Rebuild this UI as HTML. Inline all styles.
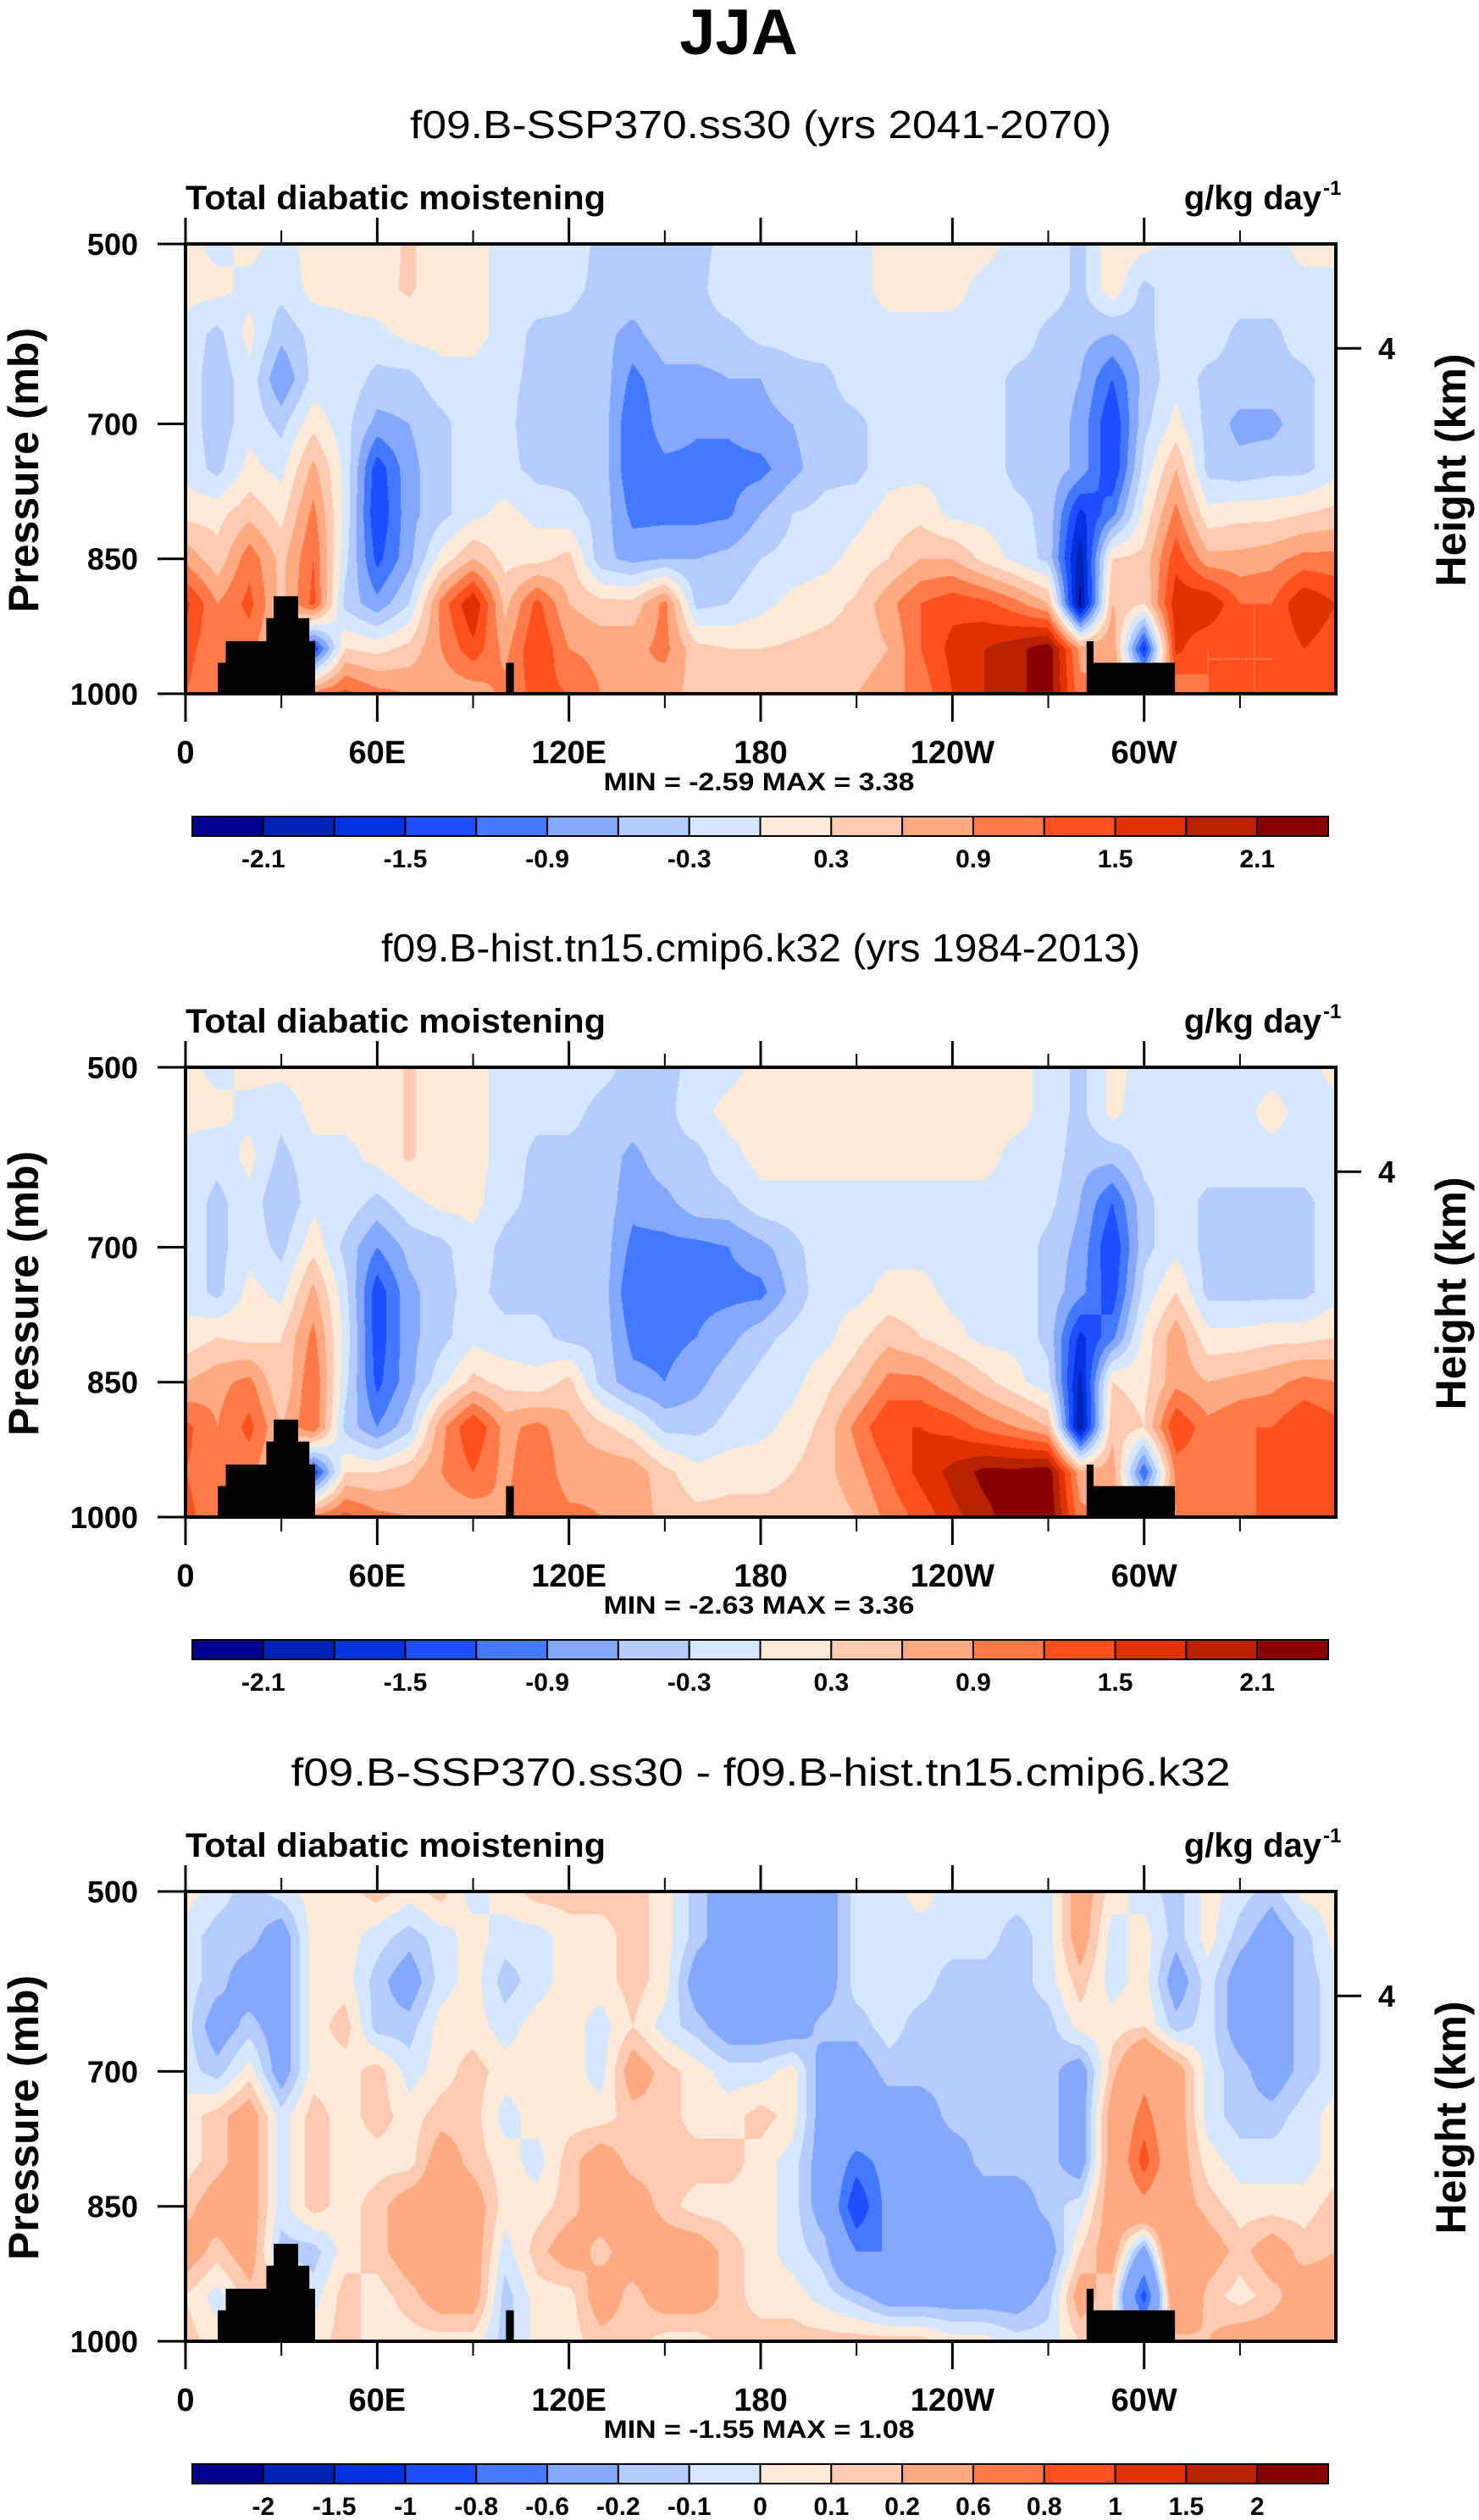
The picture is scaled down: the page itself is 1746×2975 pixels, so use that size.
<!DOCTYPE html>
<html><head><meta charset="utf-8"><title>JJA Total diabatic moistening</title>
<style>
html,body{margin:0;padding:0;background:#fff;}
#root{position:relative;width:1746px;height:2975px;overflow:hidden;background:#fff;font-family:"Liberation Sans",sans-serif;}
canvas{position:absolute;}
svg{position:absolute;left:0;top:0;}
</style></head>
<body>
<div id="root">
<canvas id="c0" width="1358" height="531" style="left:219px;top:288px"></canvas>
<canvas id="c1" width="1358" height="531" style="left:219px;top:1260px"></canvas>
<canvas id="c2" width="1358" height="531" style="left:219px;top:2233px"></canvas>
<svg id="s" width="1746" height="2975" xmlns="http://www.w3.org/2000/svg">
<text x="872" y="64" text-anchor="middle" font-family="Liberation Sans, sans-serif" font-weight="bold" font-size="76">JJA</text>
</svg>
</div>
<script>
const lons=[0,10,20,30,40,50,60,70,80,90,100,110,120,130,140,150,160,170,180,190,200,210,220,230,240,250,260,270,280,290,300,310,320,330,340,350,360];
const levels=[500,550,600,650,700,750,800,850,900,950,1000];

const p1Values=[
[0.1,-0.1,0.1,-0.1,0.1,0.1,0.15,0.35,0.1,0.1, -0.1,-0.1,-0.1,-0.4,-0.4,-0.4,-0.4,-0.2,-0.1,-0.1, -0.1,-0.1,0.1,0.1,0.1,0.1,-0.1,-0.1,-0.4,0.2, 0.1,-0.1,-0.1,-0.1,-0.1,0.1,0.1],
[0.1,0.1,-0.1,-0.2,0.1,0.1,0.2,0.35,0.1,0.1, -0.1,-0.1,-0.2,-0.4,-0.4,-0.4,-0.4,-0.1,-0.1,-0.1, -0.1,-0.1,0.1,0.1,0.1,-0.1,-0.1,-0.1,-0.4,0.2, -0.4,-0.1,-0.1,-0.1,-0.1,-0.1,-0.1],
[-0.1,-0.4,0.1,-0.5,-0.2,-0.1,-0.1,0.1,0.1,0.1, -0.1,-0.4,-0.4,-0.5,-0.7,-0.4,-0.4,-0.4,-0.2,-0.2, -0.1,-0.1,-0.1,-0.1,-0.1,-0.1,-0.1,-0.4,-0.5,-0.6, -0.4,-0.1,-0.1,-0.4,-0.4,-0.1,-0.1],
[-0.1,-0.5,-0.1,-0.9,-0.2,-0.1,-0.4,-0.4,-0.1,-0.1, -0.2,-0.4,-0.6,-0.4,-1.0,-0.7,-0.7,-0.6,-0.6,-0.4, -0.4,-0.1,-0.1,-0.1,-0.1,-0.1,-0.4,-0.4,-0.6,-1.2, -0.5,-0.1,-0.4,-0.4,-0.4,-0.4,-0.1],
[-0.1,-0.5,-0.1,-0.4,0.2,-0.2,-0.7,-0.6,-0.4,-0.1, -0.2,-0.5,-0.5,-0.4,-1.2,-0.7,-0.85,-0.85,-0.7,-0.6, -0.4,-0.4,-0.1,-0.1,-0.1,-0.1,-0.4,-0.4,-0.7,-1.5, -0.4,0.1,-0.4,-0.7,-0.7,-0.4,-0.1],
[-0.1,-0.4,0.1,-0.1,0.7,-0.1,-1.4,-0.7,-0.4,-0.1, -0.2,-0.4,-0.4,-0.4,-1.2,-1.0,-1.0,-1.0,-1.0,-0.7, -0.4,-0.4,-0.1,-0.1,-0.1,-0.1,-0.4,-0.4,-0.7,-1.5, -0.2,0.6,-0.4,-0.5,-0.4,-0.4,-0.1],
[0.2,0.2,0.5,0.2,1.0,-0.1,-1.5,-0.7,-0.4,-0.1, 0.1,-0.1,-0.2,-0.4,-1.0,-1.0,-1.0,-0.95,-0.6,-0.3, -0.2,-0.1,0.1,0.2,-0.1,-0.1,-0.2,-0.4,-1.6,-1.0, 0.1,1.0,0.1,0.2,0.2,0.3,0.4],
[0.8,0.4,1.1,0.5,1.2,-0.2,-1.3,-0.7,0.1,0.6, 0.2,0.2,0.4,-0.5,-0.7,-0.6,-0.6,-0.5,-0.3,-0.2, -0.1,0.1,0.3,0.6,0.6,0.2,-0.1,-0.4,-2.0,0.3, 0.4,1.4,0.7,0.7,0.8,1.0,1.0],
[1.6,0.9,1.3,0.5,1.3,-0.4,-0.8,-0.3,1.0,1.8, 0.5,1.3,0.6,0.4,0.4,1.0,-0.4,-0.3,-0.1,0.1, 0.2,0.35,0.8,1.2,1.4,1.3,1.0,0.6,-2.2,0.6, 0.3,1.7,1.8,1.2,1.2,1.8,1.5],
[1.3,1.0,1.0,0.5,-1.5,0.3,0.2,0.4,0.9,1.4, 0.8,1.5,0.9,0.8,0.8,1.0,0.4,0.3,0.3,0.35, 0.4,0.4,0.6,1.2,1.6,1.8,2.0,2.3,0.8,0.9, -1.6,1.6,1.2,1.2,1.2,1.5,1.3],
[1.2,1.0,1.0,1.0,1.0,1.3,1.0,0.9,0.7,0.7, 1.0,1.3,1.2,0.9,0.9,0.7,0.5,0.5,0.5,0.5, 0.5,0.6,0.8,1.0,1.5,1.8,2.0,2.3,1.0,0.8, 0.2,0.9,1.2,1.2,1.2,1.2,1.2]
];

const p2Values=[
[0.1,-0.1,0.1,0.1,0.1,0.1,0.1,0.35,0.1,0.1, -0.1,-0.1,-0.1,-0.2,-0.4,-0.4,-0.2,-0.1,0.1,0.1, 0.1,0.1,0.1,0.1,0.1,0.1,0.1,-0.1,-0.4,0.1, -0.1,-0.1,-0.1,-0.1,-0.1,-0.1,0.1],
[0.1,0.1,-0.1,-0.2,0.1,0.1,0.1,0.35,0.1,0.1, -0.1,-0.2,-0.2,-0.4,-0.4,-0.4,-0.1,0.1,0.1,0.1, 0.1,0.1,0.1,0.1,0.1,0.1,0.1,-0.1,-0.4,0.1, -0.2,-0.1,-0.1,-0.1,0.1,-0.1,-0.1],
[-0.1,-0.2,0.1,-0.4,-0.1,-0.1,0.1,0.35,0.1,0.1, -0.1,-0.4,-0.4,-0.4,-0.7,-0.4,-0.4,-0.1,0.1,0.1, 0.1,0.1,0.1,0.1,0.1,0.1,-0.1,-0.1,-0.5,-0.5, -0.2,-0.1,-0.1,-0.1,-0.1,-0.1,-0.1],
[-0.1,-0.4,-0.1,-0.6,-0.1,-0.1,-0.4,-0.1,0.1,0.1, -0.2,-0.4,-0.4,-0.4,-0.8,-0.7,-0.4,-0.4,-0.1,-0.1, -0.1,-0.1,-0.1,-0.1,-0.1,-0.1,-0.1,-0.2,-0.6,-1.2, -0.4,-0.1,-0.4,-0.4,-0.4,-0.4,-0.1],
[-0.1,-0.4,-0.1,-0.4,0.2,-0.4,-0.9,-0.5,-0.4,-0.1, -0.4,-0.5,-0.4,-0.4,-1.0,-1.0,-1.0,-0.9,-0.7,-0.4, -0.1,-0.1,-0.1,-0.1,-0.1,-0.1,-0.1,-0.4,-0.7,-1.5, -0.4,-0.1,-0.4,-0.4,-0.4,-0.4,-0.1],
[-0.1,-0.4,0.1,-0.1,0.7,-0.2,-1.4,-0.7,-0.4,-0.2, -0.4,-0.4,-0.4,-0.4,-1.2,-1.0,-1.0,-1.0,-1.0,-0.5, -0.1,-0.1,0.1,0.1,-0.1,-0.1,-0.1,-0.4,-0.8,-1.4, -0.2,0.3,-0.4,-0.4,-0.4,-0.4,-0.1],
[0.1,0.3,0.2,0.3,1.0,-0.1,-1.4,-0.7,-0.4,-0.1, -0.2,-0.2,-0.4,-0.4,-1.0,-1.0,-0.9,-0.7,-0.4,-0.2, -0.1,0.2,0.5,0.3,0.1,-0.1,-0.1,-0.4,-1.6,-1.0, 0.1,0.8,0.1,0.1,0.2,0.2,0.3],
[0.6,0.8,1.0,0.3,1.2,-0.2,-1.3,-0.7,-0.1,0.4, 0.2,0.1,0.4,-0.4,-0.8,-0.9,-0.7,-0.4,-0.2,-0.1, 0.2,0.5,1.0,1.0,0.7,0.4,0.1,-0.2,-1.9,0.3, 0.2,0.8,0.6,0.7,0.8,1.0,0.9],
[1.3,0.9,1.3,0.6,1.2,-0.4,-0.9,-0.4,0.8,1.5, 0.8,1.0,0.7,0.4,0.1,-0.4,-0.4,-0.2,-0.1,0.1, 0.4,1.0,1.5,1.5,1.4,1.1,0.9,0.6,-2.1,0.5, 0.3,1.5,1.0,1.2,1.2,1.5,1.3],
[1.2,1.0,1.0,0.5,-1.5,0.3,0.3,0.5,0.9,1.2, 0.8,1.2,0.7,0.8,0.8,0.4,0.1,0.2,0.2,0.3, 0.5,0.8,1.2,1.6,1.9,2.2,2.2,2.3,0.7,0.8, -1.2,1.0,1.0,1.1,1.3,1.4,1.2],
[1.3,1.0,1.0,1.0,1.0,1.3,1.0,0.9,0.7,0.7, 0.9,1.2,1.0,0.9,0.8,0.5,0.4,0.4,0.4,0.4, 0.4,0.6,1.0,1.3,1.7,2.0,2.3,2.4,1.0,0.8, 0.2,0.9,1.0,1.2,1.2,1.2,1.2]
];

const p3Values=[
[0.05,-0.05,-0.15,-0.05,0.05,0.05,0.15,0.05,0.15,-0.05, 0.05,0.15,0.15,0.15,0.15,0.05,-0.15,-0.3,-0.3,-0.3, -0.3,-0.05,-0.05,0.05,-0.05,-0.05,-0.05,-0.05,0.3,0.05, -0.05,-0.15,0.05,-0.05,-0.15,0.05,0.05],
[-0.05,-0.15,-0.15,-0.3,0.05,0.05,-0.05,-0.15,-0.05,0.05, -0.05,-0.05,0.05,0.05,0.15,0.05,-0.15,-0.3,-0.3,-0.3, -0.3,-0.05,-0.05,-0.05,-0.05,-0.05,-0.15,-0.05,0.3,-0.05, 0.05,-0.15,0.05,-0.15,-0.3,-0.15,0.05],
[-0.05,-0.15,-0.3,-0.3,0.05,0.05,-0.15,-0.3,-0.05,0.05, -0.15,-0.05,0.05,0.05,0.15,0.05,-0.3,-0.3,-0.3,-0.3, -0.3,-0.05,-0.05,-0.05,-0.15,-0.15,-0.15,-0.05,0.15,-0.05, 0.05,-0.3,-0.05,-0.3,-0.3,-0.15,-0.05],
[-0.05,-0.3,-0.15,-0.3,0.05,0.15,-0.15,-0.15,0.05,0.05, -0.05,0.05,0.05,-0.05,0.1,-0.05,-0.15,-0.3,-0.3,-0.3, -0.15,-0.15,-0.05,-0.15,-0.15,-0.15,-0.15,-0.15,0.05,0.05, 0.1,-0.15,-0.05,-0.3,-0.3,-0.15,-0.05],
[-0.05,-0.15,0.05,-0.3,0.05,0.05,0.15,-0.05,0.05,0.15, 0.05,0.05,0.05,-0.05,0.3,0.15,0.05,-0.05,-0.05,0.05, -0.3,-0.3,-0.15,-0.15,-0.15,-0.15,-0.15,-0.15,-0.3,0.15, 0.5,0.3,-0.05,-0.15,-0.3,-0.15,-0.05],
[0.05,0.15,0.3,-0.05,0.15,0.05,0.15,0.05,0.15,0.15, -0.05,0.05,0.05,0.05,0.15,0.15,0.05,0.05,0.15,0.05, -0.3,-0.3,-0.3,-0.3,-0.15,-0.15,-0.15,-0.15,-0.3,0.3, 0.7,0.3,-0.05,-0.15,-0.15,-0.05,0.05],
[0.05,0.15,0.3,-0.05,0.15,0.05,0.05,0.05,0.3,0.15, 0.05,-0.05,0.15,0.3,0.15,0.15,0.15,0.15,0.05,-0.05, -0.3,-0.7,-0.5,-0.3,-0.3,-0.15,-0.15,-0.15,-0.3,0.3, 0.9,0.3,0.05,-0.05,-0.05,-0.05,0.05],
[0.15,0.3,0.3,-0.05,0.15,0.05,0.15,0.3,0.3,0.3, 0.05,0.05,0.15,0.3,0.3,0.15,0.05,0.05,0.05,-0.05, -0.3,-1.0,-0.5,-0.3,-0.3,-0.3,-0.3,-0.15,-0.05,0.3, 0.5,0.3,0.15,0.05,0.05,0.05,0.15],
[0.3,0.15,0.3,-0.15,-0.15,0.05,0.15,0.3,0.3,0.3, -0.05,0.15,0.3,0.15,0.3,0.3,0.3,0.15,0.05,-0.05, -0.15,-0.6,-0.6,-0.3,-0.3,-0.3,-0.3,-0.3,0.1,0.3, -0.3,0.6,0.3,0.15,0.3,0.15,0.2],
[0.1,-0.05,0.15,0.15,-0.05,0.15,0.05,0.15,0.3,0.3, -0.15,0.05,0.05,0.3,0.15,0.3,0.3,0.15,0.05,0.05, -0.05,-0.15,-0.3,-0.3,-0.3,-0.3,-0.3,-0.15,0.3,0.1, -0.9,0.5,0.15,0.05,0.15,0.3,0.3],
[0.15,0.05,0.05,0.05,0.05,0.15,0.05,0.05,0.05,0.05, -0.15,0.05,0.05,0.15,0.15,0.05,0.05,0.15,0.15,0.15, 0.15,0.15,0.15,0.15,0.05,0.05,-0.05,-0.05,0.1,0.1, -0.3,0.15,0.2,0.3,0.3,0.3,0.3]
];

const boundsA=[-2.1,-1.8,-1.5,-1.2,-0.9,-0.6,-0.3,0,0.3,0.6,0.9,1.2,1.5,1.8,2.1];
const boundsB=[-2,-1.5,-1,-0.8,-0.6,-0.2,-0.1,0,0.1,0.2,0.6,0.8,1,1.5,2];
const labelsA=['-2.1','','-1.5','','-0.9','','-0.3','','0.3','','0.9','','1.5','','2.1'];
const labelsB=['-2','-1.5','-1','-0.8','-0.6','-0.2','-0.1','0','0.1','0.2','0.6','0.8','1','1.5','2'];
const palette=['#00008c','#0022b6','#0032e0','#1c4fff','#4479ff','#84a8ff','#b4ccff','#d6e8ff','#ffeada','#ffcbb0','#ffaa82','#ff7a46','#ff501e','#e03200','#b82200','#8a0000'];

const xTickLons=[0,60,120,180,240,300];
const xTickLabels=['0','60E','120E','180','120W','60W'];
const xMinorLons=[30,90,150,210,270,330];
const yTickPres=[500,700,850,1000];
const yTickLabels=['500','700','850','1000'];
const heightTickPres=[616];
const heightTickLabels=['4'];

const topoLonStart=[10.1,12.6,25.3,27.6,35.1,38.6,100.3,282,284];
const topoLonEnd=[12.6,25.3,27.6,35.1,38.6,40.4,102.6,284,309.5];
const topoPres=[965.6,941.6,916,891.6,916,941.6,965.6,941.6,965.6];

const subtitles=['f09.B-SSP370.ss30 (yrs 2041-2070)','f09.B-hist.tn15.cmip6.k32 (yrs 1984-2013)','f09.B-SSP370.ss30 - f09.B-hist.tn15.cmip6.k32'];
const subtitleWidths=[828,896,1109];
const minVals=['-2.59','-2.63','-1.55'];
const maxVals=['3.38','3.36','1.08'];

const X0=219,X1=1577,PH=531;
const panelTops=[288,1260,2233];
const svg=document.getElementById('s');
const NS='http://www.w3.org/2000/svg';
function mk(tag,attrs,parent){const e=document.createElementNS(NS,tag);for(const k in attrs)e.setAttribute(k,attrs[k]);(parent||svg).appendChild(e);return e;}
function xScale(lon){return X0+(lon/360)*(X1-X0);}
function yScale(p,top){return top+(p-500)/500*PH;}
function classify(v,b){let i=0;while(i<b.length&&v>=b[i])i++;return i;}
function hex(h){return [parseInt(h.substr(1,2),16),parseInt(h.substr(3,2),16),parseInt(h.substr(5,2),16)];}
const rgb=palette.map(hex);
function locate(arr,v){let i=0;while(i<arr.length-2&&v>arr[i+1])i++;const t=(v-arr[i])/(arr[i+1]-arr[i]);return [i,Math.max(0,Math.min(1,t))];}

function drawField(canvasId,vals,bounds){
  const cv=document.getElementById(canvasId);const ctx=cv.getContext('2d');
  const W=cv.width,H=cv.height;const img=ctx.createImageData(W,H);const d=img.data;
  const colI=[],colT=[];
  for(let px=0;px<W;px++){const r=locate(lons,(px+0.5)/W*360);colI.push(r[0]);colT.push(r[1]);}
  for(let py=0;py<H;py++){
    const rr=locate(levels,500+(py+0.5)/H*500);const j=rr[0],u=rr[1];
    const a=vals[j],b=vals[j+1];
    for(let px=0;px<W;px++){
      const i=colI[px],t=colT[px];
      const v=(a[i]*(1-t)+a[i+1]*t)*(1-u)+(b[i]*(1-t)+b[i+1]*t)*u;
      const c=rgb[classify(v,bounds)];const k=(py*W+px)*4;
      d[k]=c[0];d[k+1]=c[1];d[k+2]=c[2];d[k+3]=255;
    }
  }
  ctx.putImageData(img,0,0);
}
drawField('c0',p1Values,boundsA);
drawField('c1',p2Values,boundsA);
drawField('c2',p3Values,boundsB);

const FF='Liberation Sans, sans-serif';
for(let k=0;k<3;k++){
  const top=panelTops[k],bot=top+PH;
  const g=mk('g',{});
  
  
  const st=mk('text',{x:898,y:top-125,'text-anchor':'middle','font-family':FF,'font-size':46,textLength:subtitleWidths[k],lengthAdjust:'spacingAndGlyphs'},g);
  st.textContent=subtitles[k];
  
  
  const lt=mk('text',{x:219,y:top-41,'font-family':FF,'font-weight':'bold','font-size':40,textLength:496,lengthAdjust:'spacingAndGlyphs'},g);
  lt.textContent='Total diabatic moistening';
  
  
  const ut=mk('text',{x:1560,y:top-41,'text-anchor':'end','font-family':FF,'font-weight':'bold','font-size':40},g);
  ut.textContent='g/kg day';
  
  
  const sup=mk('text',{x:1562,y:top-58,'font-family':FF,'font-weight':'bold','font-size':24},g);
  sup.textContent='-1';
  
  
  for(let i=0;i<topoLonStart.length;i++){
    const x1=xScale(topoLonStart[i]),x2=xScale(topoLonEnd[i]),y=yScale(topoPres[i],top);
    const r=mk('rect',{x:x1,y:y,width:x2-x1+0.6,height:bot-y,fill:'#000'},g);
    
    
  }
  const fr=mk('rect',{x:X0,y:top,width:X1-X0,height:PH,fill:'none',stroke:'#000','stroke-width':4},g);
  
  
  for(let i=0;i<xTickLons.length;i++){
    const x=xScale(xTickLons[i]);
    const t1=mk('line',{x1:x,x2:x,y1:top,y2:top-31,stroke:'#000','stroke-width':3},g);
    
    
    const t2=mk('line',{x1:x,x2:x,y1:bot,y2:bot+33,stroke:'#000','stroke-width':3},g);
    
    
    const tl=mk('text',{x:x,y:bot+82,'text-anchor':'middle','font-family':FF,'font-weight':'bold','font-size':38},g);
    tl.textContent=xTickLabels[i];
    
    
  }
  for(let i=0;i<xMinorLons.length;i++){
    const x=xScale(xMinorLons[i]);
    const t1=mk('line',{x1:x,x2:x,y1:top,y2:top-16,stroke:'#000','stroke-width':2},g);
    
    
    const t2=mk('line',{x1:x,x2:x,y1:bot,y2:bot+17,stroke:'#000','stroke-width':2},g);
    
    
  }
  for(let i=0;i<yTickPres.length;i++){
    const y=yScale(yTickPres[i],top);
    const t=mk('line',{x1:X0,x2:X0-33,y1:y,y2:y,stroke:'#000','stroke-width':3},g);
    
    
    const tl=mk('text',{x:163,y:y+13,'text-anchor':'end','font-family':FF,'font-weight':'bold','font-size':36},g);
    tl.textContent=yTickLabels[i];
    
    
  }
  for(let i=0;i<heightTickPres.length;i++){
    const y=yScale(heightTickPres[i],top);
    const t=mk('line',{x1:X1,x2:X1+30,y1:y,y2:y,stroke:'#000','stroke-width':3},g);
    
    
    const tl=mk('text',{x:1637,y:y+13,'text-anchor':'middle','font-family':FF,'font-weight':'bold','font-size':36},g);
    tl.textContent=heightTickLabels[i];
    
    
  }
  const yl=mk('text',{x:0,y:0,'text-anchor':'middle','font-family':FF,'font-weight':'bold','font-size':50,transform:'translate(45,'+(top+267)+') rotate(-90)'},g);
  yl.textContent='Pressure (mb)';
  
  
  const hl=mk('text',{x:0,y:0,'text-anchor':'middle','font-family':FF,'font-weight':'bold','font-size':50,transform:'translate(1730,'+(top+267)+') rotate(-90)'},g);
  hl.textContent='Height (km)';
  
  
  const mm=mk('text',{x:896,y:top+645,'text-anchor':'middle','font-family':FF,'font-weight':'bold','font-size':30,'xml:space':'preserve',textLength:367,lengthAdjust:'spacingAndGlyphs'},g);
  mm.textContent='MIN = '+minVals[k]+'  MAX = '+maxVals[k];
  
  
  const cbL=227,cbR=1568,cbT=top+676,cbH=23,seg=(cbR-cbL)/palette.length;
  const bounds=k<2?boundsA:boundsB,labs=k<2?labelsA:labelsB;
  for(let i=0;i<palette.length;i++){
    const r=mk('rect',{x:cbL+i*seg,y:cbT,width:seg,height:cbH,fill:palette[i],stroke:'#000','stroke-width':2},g);
    
    
  }
  for(let i=0;i<bounds.length;i++){
    if(!labs[i])continue;
    const tl=mk('text',{x:cbL+(i+1)*seg,y:top+736,'text-anchor':'middle','font-family':FF,'font-weight':'bold','font-size':30},g);
    tl.textContent=labs[i];
    
    
  }
}
</script>
</body></html>
